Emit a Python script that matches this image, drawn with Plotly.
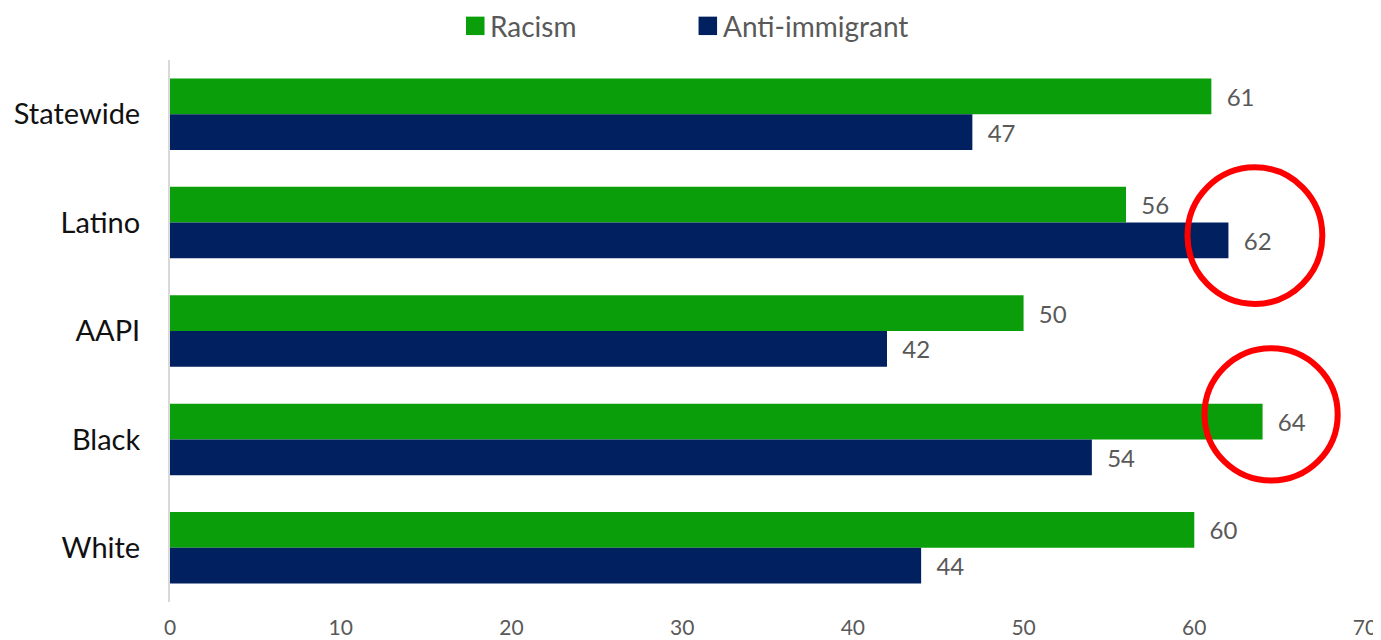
import plotly.graph_objects as go

categories = ["Statewide", "Latino", "AAPI", "Black", "White"]
racism = [61, 56, 50, 64, 60]
anti_immigrant = [47, 62, 42, 54, 44]
x_ticks = [0, 10, 20, 30, 40, 50, 60, 70]
series_names = ["Racism", "Anti-immigrant"]

GREEN = "#0a9e0a"
NAVY = "#002060"
FONT = "Lato, 'Open Sans', sans-serif"

fig = go.Figure()
for name, vals, col in [(series_names[0], racism, GREEN), (series_names[1], anti_immigrant, NAVY)]:
    fig.add_trace(go.Bar(
        y=categories, x=vals, name=name, orientation="h",
        marker=dict(color=col, line=dict(width=0)),
        text=vals, texttemplate="\u00a0\u00a0%{x}", textposition="outside",
        textfont=dict(color="#595959", size=24, family=FONT), cliponaxis=False,
        showlegend=False,
    ))

# red highlight circles (Latino anti-immigrant, Black racism)
circles = [
    dict(x0=59.6, x1=67.5, y0=0.49, y1=1.75),
    dict(x0=60.6, x1=68.4, y0=2.16, y1=3.38),
]
for c in circles:
    fig.add_shape(type="circle", xref="x", yref="y", **c,
                  line=dict(color="#ff0000", width=6), layer="above")

# manual legend (square swatches + text) above the plot
legend_items = [
    (series_names[0], GREEN, 0.2477),
    (series_names[1], NAVY, 0.4423),
]
for name, col, x0 in legend_items:
    fig.add_shape(type="rect", xref="paper", yref="paper",
                  x0=x0, x1=x0 + 0.0155, y0=1.046, y1=1.080,
                  fillcolor=col, line=dict(width=0))
    fig.add_annotation(xref="paper", yref="paper", x=x0 + 0.0195, y=1.063,
                       xanchor="left", yanchor="middle", text=name, showarrow=False,
                       borderpad=0,
                       font=dict(size=28, color="#595959", family=FONT))

# page body has an 8px margin, so the figure is 8px smaller to fit the window
fig.update_layout(
    width=1373, height=632,
    margin=dict(l=162, r=16, t=52, b=38, autoexpand=False),
    paper_bgcolor="white", plot_bgcolor="white",
    barmode="group", bargap=0.34, bargroupgap=0,
    font=dict(family=FONT, color="#595959"),
    showlegend=False,
)
fig.update_xaxes(range=[0, 70], tickvals=x_ticks, showgrid=False, zeroline=False,
                 showline=False, ticks="outside", ticklen=7, automargin=False,
                 tickcolor="rgba(0,0,0,0)", tickfont=dict(size=21, color="#595959"))
fig.update_yaxes(autorange="reversed", showgrid=False, zeroline=False,
                 showline=True, linecolor="#d9d9d9", linewidth=2, automargin=False,
                 ticks="outside", ticklen=22, tickcolor="rgba(0,0,0,0)",
                 tickfont=dict(size=29, color="#111111"))

fig.write_html("out.html")
